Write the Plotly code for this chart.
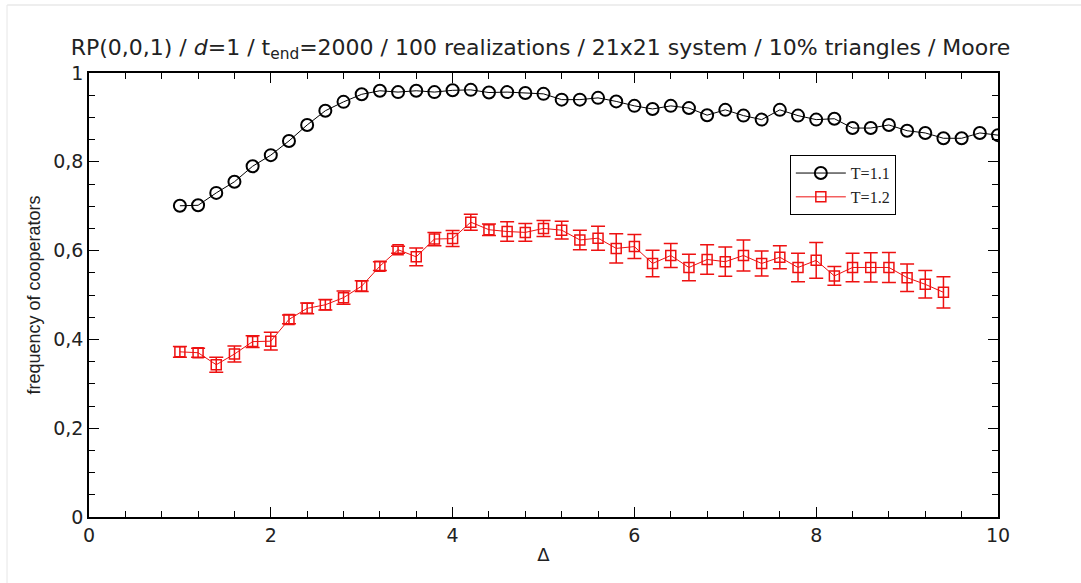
import plotly.graph_objects as go

# ---- data ----
x_black = [1.0, 1.2, 1.4, 1.6, 1.8, 2.0, 2.2, 2.4, 2.6, 2.8, 3.0, 3.2, 3.4, 3.6, 3.8, 4.0,
           4.2, 4.4, 4.6, 4.8, 5.0, 5.2, 5.4, 5.6, 5.8, 6.0, 6.2, 6.4, 6.6, 6.8, 7.0, 7.2,
           7.4, 7.6, 7.8, 8.0, 8.2, 8.4, 8.6, 8.8, 9.0, 9.2, 9.4, 9.6, 9.8, 10.0]
y_black = [0.701, 0.702, 0.730, 0.755, 0.790, 0.815, 0.847, 0.883, 0.915, 0.935, 0.952, 0.960,
           0.957, 0.960, 0.957, 0.961, 0.962, 0.956, 0.957, 0.955, 0.953, 0.940, 0.940, 0.944,
           0.936, 0.926, 0.919, 0.926, 0.921, 0.905, 0.917, 0.904, 0.895, 0.917, 0.904, 0.895,
           0.897, 0.876, 0.876, 0.883, 0.870, 0.865, 0.853, 0.853, 0.865, 0.860]

x_red = [1.0, 1.2, 1.4, 1.6, 1.8, 2.0, 2.2, 2.4, 2.6, 2.8, 3.0, 3.2, 3.4, 3.6, 3.8, 4.0,
         4.2, 4.4, 4.6, 4.8, 5.0, 5.2, 5.4, 5.6, 5.8, 6.0, 6.2, 6.4, 6.6, 6.8, 7.0, 7.2,
         7.4, 7.6, 7.8, 8.0, 8.2, 8.4, 8.6, 8.8, 9.0, 9.2, 9.4]
y_red = [0.372, 0.370, 0.343, 0.367, 0.395, 0.396, 0.445, 0.470, 0.478, 0.494, 0.520, 0.565,
         0.602, 0.586, 0.626, 0.627, 0.664, 0.647, 0.643, 0.641, 0.650, 0.646, 0.624, 0.628,
         0.605, 0.609, 0.571, 0.589, 0.562, 0.580, 0.575, 0.589, 0.571, 0.585, 0.562, 0.578,
         0.543, 0.562, 0.562, 0.562, 0.539, 0.524, 0.506]
err_red = [0.012, 0.010, 0.017, 0.018, 0.013, 0.020, 0.010, 0.012, 0.012, 0.015, 0.012, 0.010,
           0.008, 0.020, 0.015, 0.018, 0.018, 0.013, 0.022, 0.020, 0.018, 0.020, 0.022, 0.027,
           0.033, 0.027, 0.030, 0.027, 0.030, 0.033, 0.033, 0.035, 0.028, 0.026, 0.032, 0.040,
           0.021, 0.032, 0.033, 0.034, 0.031, 0.031, 0.035]

title_text = ("RP(0,0,1) / <i>d</i>=1 / t<sub>end</sub>=2000 / 100 realizations / "
              "21x21 system / 10% triangles / Moore")

SANS = "DejaVu Sans, Liberation Sans, Arial"

fig = go.Figure()
fig.add_trace(go.Scatter(
    x=x_black, y=y_black, mode="lines+markers", name="T=1.1",
    line=dict(color="black", width=1),
    marker=dict(symbol="circle-open", size=12, color="black", line=dict(width=2)),
))
fig.add_trace(go.Scatter(
    x=x_red, y=y_red, mode="lines+markers", name="T=1.2",
    line=dict(color="#ee1111", width=1),
    marker=dict(symbol="square-open", size=10, color="#ee1111", line=dict(width=1.5)),
    error_y=dict(type="data", array=err_red, color="#ee1111", thickness=1.5, width=7),
))

axis_common = dict(
    showline=True, linecolor="black", linewidth=1.5, mirror="ticks",
    ticks="inside", ticklen=10, tickwidth=1.2, tickcolor="black",
    showgrid=False, zeroline=False,
    tickfont=dict(family=SANS, size=19, color="#222"),
)

fig.update_layout(
    width=1081, height=583,
    margin=dict(l=89, r=83, t=73, b=66),
    paper_bgcolor="white", plot_bgcolor="white",
    separators=",.",
    title=dict(text=title_text, x=0.5, xanchor="center", y=1 - 47 / 583, yanchor="middle",
               font=dict(family=SANS, size=22, color="#222")),
    xaxis=dict(range=[0, 10], dtick=2, tick0=0,
               minor=dict(dtick=0.4, ticks="inside", ticklen=6, tickcolor="black", tickwidth=1),
               title=dict(text="Δ", standoff=4,
                          font=dict(family=SANS, size=18, color="#222")),
               **axis_common),
    yaxis=dict(range=[0, 1], dtick=0.2, tick0=0,
               minor=dict(dtick=0.05, ticks="inside", ticklen=6, tickcolor="black", tickwidth=1),
               title=dict(text="frequency of cooperators", standoff=8,
                          font=dict(family="Liberation Sans, Arial", size=18, color="#222")),
               **axis_common),
    legend=dict(x=0.771, y=0.815, xanchor="left", yanchor="top",
                bordercolor="black", borderwidth=1, bgcolor="white",
                font=dict(family="Liberation Serif, Times New Roman", size=16, color="#222"),
                itemwidth=50, tracegroupgap=0),
    showlegend=True,
)

# faint screenshot border
fig.add_shape(type="line", xref="paper", yref="paper", x0=-0.09, x1=1.2,
              y0=1 + 68 / 444, y1=1 + 68 / 444, line=dict(color="#dddddd", width=1))
fig.add_shape(type="line", xref="paper", yref="paper", x0=-0.0902, x1=-0.0902,
              y0=-0.2, y1=1 + 68 / 444, line=dict(color="#e6e6e6", width=1))

fig.write_html("out.html")
